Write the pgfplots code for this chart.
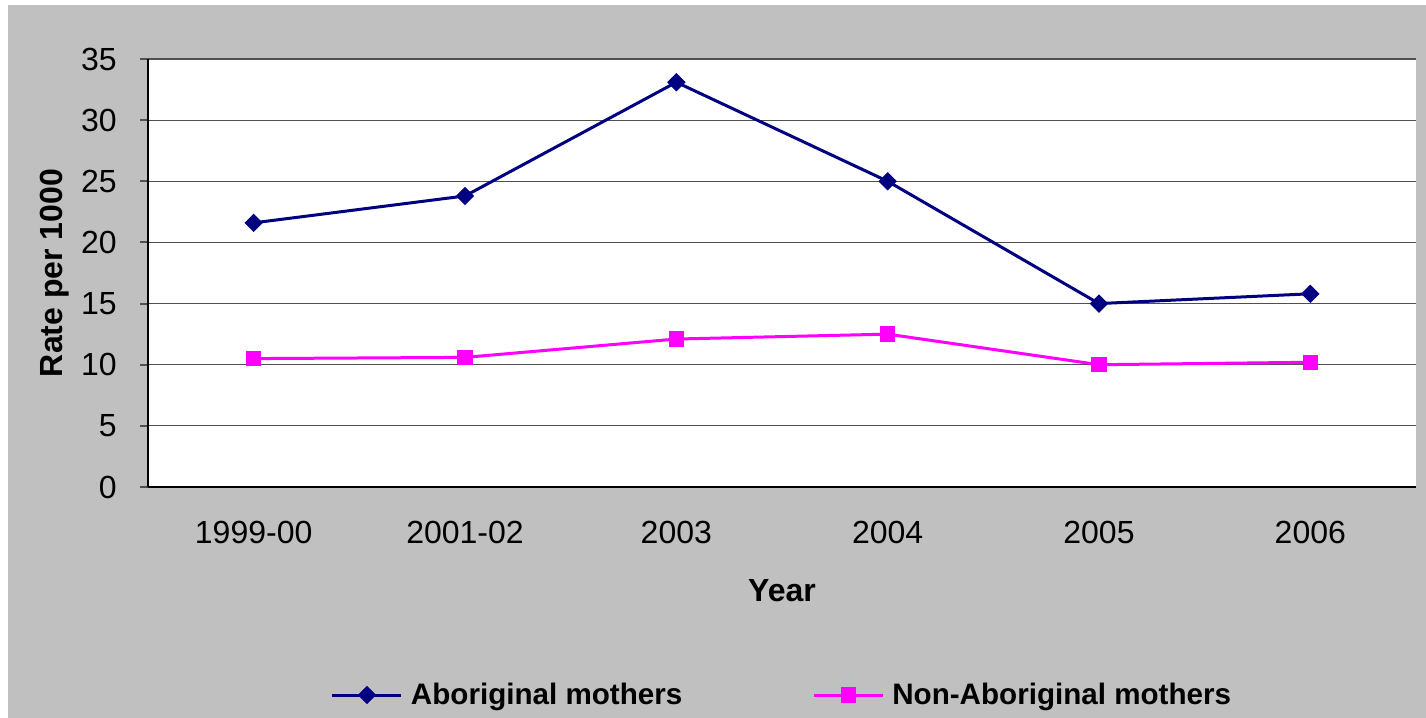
\documentclass[border=0pt]{standalone}
\usepackage{pgfplots}
\pgfplotsset{compat=1.18}
\usepackage{fontspec}
\setmainfont{Liberation Sans}
\definecolor{bggray}{HTML}{C0C0C0}
\definecolor{navyc}{HTML}{000080}
\definecolor{magc}{HTML}{FF00FF}
\definecolor{gridc}{HTML}{505050}
\begin{document}
\begin{tikzpicture}
\useasboundingbox (0,0) rectangle (713pt,359pt);
\fill[white] (0,0) rectangle (713pt,359pt);
\fill[bggray] (4pt,0) rectangle (713pt,356.5pt);
\begin{axis}[
  at={(74pt,115.5pt)}, anchor=south west,
  scale only axis, width=634pt, height=214pt,
  xmin=-0.5, xmax=5.5, ymin=0, ymax=35,
  axis background/.style={fill=white},
  axis x line*=bottom, axis y line*=left,
  axis line style={black, line width=1pt},
  xtick={0,1,2,3,4,5},
  xticklabels={1999-00,2001-02,2003,2004,2005,2006},
  x tick style={draw=none},
  extra x ticks={-0.5,0.5,1.5,2.5,3.5,4.5,5.5},
  extra x tick labels={},
  extra x tick style={major tick length=5pt, tick align=outside, tick style={draw=black, line width=0.8pt}, grid=none},
  ytick={0,5,...,35},
  ymajorgrids,
  major grid style={gridc, line width=0.6pt},
  y tick style={draw=gridc, line width=1pt},
  ytick align=outside, major tick length=4pt,
  /pgf/number format/assume math mode=true,
  tick label style={font=\fontsize{16}{19}\selectfont},
  yticklabel style={anchor=east, inner sep=0pt, xshift=-11.5pt},
  xticklabel style={anchor=base, inner sep=0pt, yshift=-28.5pt},
  xlabel={Year},
  xlabel style={font=\fontsize{16}{19}\selectfont\bfseries, at={(axis description cs:0.5,0)}, anchor=base, inner sep=0pt, yshift=-57.5pt},
  ylabel={Rate per 1000},
  ylabel style={font=\fontsize{16}{19}\selectfont\bfseries, at={(axis description cs:-0.0678,0.5)}, anchor=base, inner sep=0pt, rotate=0},
  legend columns=2,
  legend style={at={(axis description cs:0.1443,-0.486)}, anchor=west, draw=none, fill=none, inner sep=0pt, outer sep=0pt,
    font=\fontsize{14.8}{18}\selectfont\bfseries,
    /tikz/every even column/.append style={column sep=65pt},
    nodes={inner sep=0pt, outer sep=0pt}},
  legend image code/.code={\draw[mark repeat=2,mark phase=2,#1] plot coordinates {(0pt,0pt)(17.25pt,0pt)(34.5pt,0pt)};},
  legend cell align=left,
]
\addplot[navyc, line width=1.5pt, mark=square*, mark size=3pt, mark options={fill=navyc, draw=navyc, line width=0.5pt, rotate=45}]
  coordinates {(0,21.6) (1,23.8) (2,33.1) (3,25.0) (4,15.0) (5,15.8)};
\addlegendentry{\hspace{4pt}Aboriginal mothers}
\addplot[magc, line width=1.5pt, mark=square*, mark size=3.6pt, mark options={fill=magc, draw=magc, line width=0.5pt}]
  coordinates {(0,10.5) (1,10.6) (2,12.1) (3,12.5) (4,10.0) (5,10.2)};
\addlegendentry{\hspace{4pt}Non-Aboriginal mothers}
\end{axis}
\end{tikzpicture}
\end{document}
